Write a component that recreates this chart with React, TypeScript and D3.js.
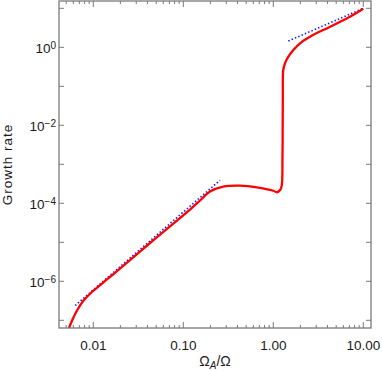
import React from "react";
import * as d3 from "d3";

// red curve: growth rate vs Omega_A / Omega
const ratio = [
  0.0051, 0.00527, 0.00585, 0.00664, 0.00788, 0.00975, 0.0126, 0.01626, 0.0427, 0.1186,
  0.1535, 0.198, 0.278, 0.426, 0.654, 1.0, 1.10, 1.19, 1.24, 1.265,
  1.272, 1.276, 1.29, 1.35, 1.47, 1.67, 1.98, 2.45, 3.16, 4.08,
  5.75, 7.43, 10.0,
];
const growth = [
  4.5e-8, 5.65e-8, 1.02e-7, 1.84e-7, 3.32e-7, 5.41e-7, 8.9e-7, 1.45e-6, 9.6e-6, 6.9e-5,
  1.18e-4, 2.0e-4, 2.67e-4, 2.83e-4, 2.57e-4, 2.1e-4, 1.92e-4, 2.2e-4, 2.8e-4, 1.5e-3,
  1.0e-2, 6.0e-2, 0.262, 0.389, 0.574, 0.853, 1.27, 1.76, 2.42, 3.18,
  4.72, 6.46, 9.8,
];

// blue dotted asymptotes (end points)
const lowAsymX = [0.0063, 0.256];
const lowAsymY = [2.4e-7, 3.9e-4];
const highAsymX = [1.47, 10.0];
const highAsymY = [1.45, 10.0];

const xMajor = [0.01, 0.1, 1, 10];
const yDecades = [-7, -6, -5, -4, -3, -2, -1, 0, 1];
const yLabelled = [-6, -4, -2, 0];

const W = 382;
const H = 371;
const left = 59;
const right = 371;
const top = 1;
const bottom = 328;

export default function App() {
  const x = d3.scaleLog().domain([0.00416, 12.18]).range([left, right]);
  const y = d3.scaleLog().domain([6.35e-8, 15.4]).range([bottom, top]);

  const xMinor: number[] = [];
  for (let e = -3; e <= 1; e++) {
    for (let k = 2; k <= 9; k++) {
      const v = k * Math.pow(10, e);
      if (v > x.domain()[0] && v < x.domain()[1]) xMinor.push(v);
    }
  }

  const line = d3
    .line<[number, number]>()
    .x((d) => x(d[0]))
    .y((d) => y(d[1]))
    .curve(d3.curveCatmullRom.alpha(0.5));

  const redPts = ratio.map((r, i) => [r, growth[i]] as [number, number]);
  const lowPts = lowAsymX.map((r, i) => [r, lowAsymY[i]] as [number, number]);
  const highPts = highAsymX.map((r, i) => [r, highAsymY[i]] as [number, number]);

  const axisColor = "#7a7a7a";
  const textColor = "#1a1a1a";
  const font = "Liberation Sans, Arial, sans-serif";

  return (
    <svg
      width={W}
      height={H}
      style={{ position: "absolute", left: 0, top: 0, background: "#fff" }}
      fontFamily={font}
    >
      <defs>
        <clipPath id="plot">
          <rect x={left} y={top} width={right - left} height={bottom - top} />
        </clipPath>
      </defs>

      <g clipPath="url(#plot)">
        <path d={line(lowPts) || ""} fill="none" stroke="#1010ff" strokeWidth={1.6} strokeDasharray="1.4 2.2" />
        <path d={line(highPts) || ""} fill="none" stroke="#1010ff" strokeWidth={1.6} strokeDasharray="1.4 2.2" />
        <path d={line(redPts) || ""} fill="none" stroke="#ff0000" strokeWidth={2.3} strokeLinejoin="round" />
      </g>

      {/* frame */}
      <rect x={left} y={top} width={right - left} height={bottom - top} fill="none" stroke={axisColor} strokeWidth={1.3} />

      {/* x ticks */}
      {xMajor.map((v) => (
        <g key={"xm" + v}>
          <line x1={x(v)} x2={x(v)} y1={bottom} y2={bottom - 6} stroke={axisColor} />
          <line x1={x(v)} x2={x(v)} y1={top} y2={top + 6} stroke={axisColor} />
          <text x={x(v)} y={350} textAnchor="middle" fontSize={13.5} fill={textColor}>
            {d3.format(".2f")(v)}
          </text>
        </g>
      ))}
      {xMinor.map((v) => (
        <g key={"xn" + v}>
          <line x1={x(v)} x2={x(v)} y1={bottom} y2={bottom - 3} stroke={axisColor} />
          <line x1={x(v)} x2={x(v)} y1={top} y2={top + 3} stroke={axisColor} />
        </g>
      ))}

      {/* y ticks */}
      {yDecades.map((e) => {
        const v = Math.pow(10, e);
        if (v < y.domain()[0] || v > y.domain()[1]) return null;
        return (
          <g key={"y" + e}>
            <line x1={left} x2={left + 5} y1={y(v)} y2={y(v)} stroke={axisColor} />
            <line x1={right} x2={right - 5} y1={y(v)} y2={y(v)} stroke={axisColor} />
          </g>
        );
      })}
      {yLabelled.map((e) => {
        const v = Math.pow(10, e);
        return (
          <text key={"yl" + e} x={56} y={y(v) + 6} textAnchor="end" fontSize={13.5} fill={textColor}>
            10
            <tspan dy={-4.5} fontSize={10}>
              {e < 0 ? "\u2212" + Math.abs(e) : String(e)}
            </tspan>
          </text>
        );
      })}

      {/* axis titles */}
      <text x={(left + right) / 2} y={366} textAnchor="middle" fontSize={14} fill={textColor}>
        Ω
        <tspan dy={3} fontSize={10} fontStyle="italic">A</tspan>
        <tspan dy={-3}>/Ω</tspan>
      </text>
      <text
        transform={`translate(11.5, ${(top + bottom) / 2}) rotate(-90)`}
        textAnchor="middle"
        fontSize={13.5}
        letterSpacing={1}
        fill={textColor}
      >
        Growth rate
      </text>
    </svg>
  );
}
